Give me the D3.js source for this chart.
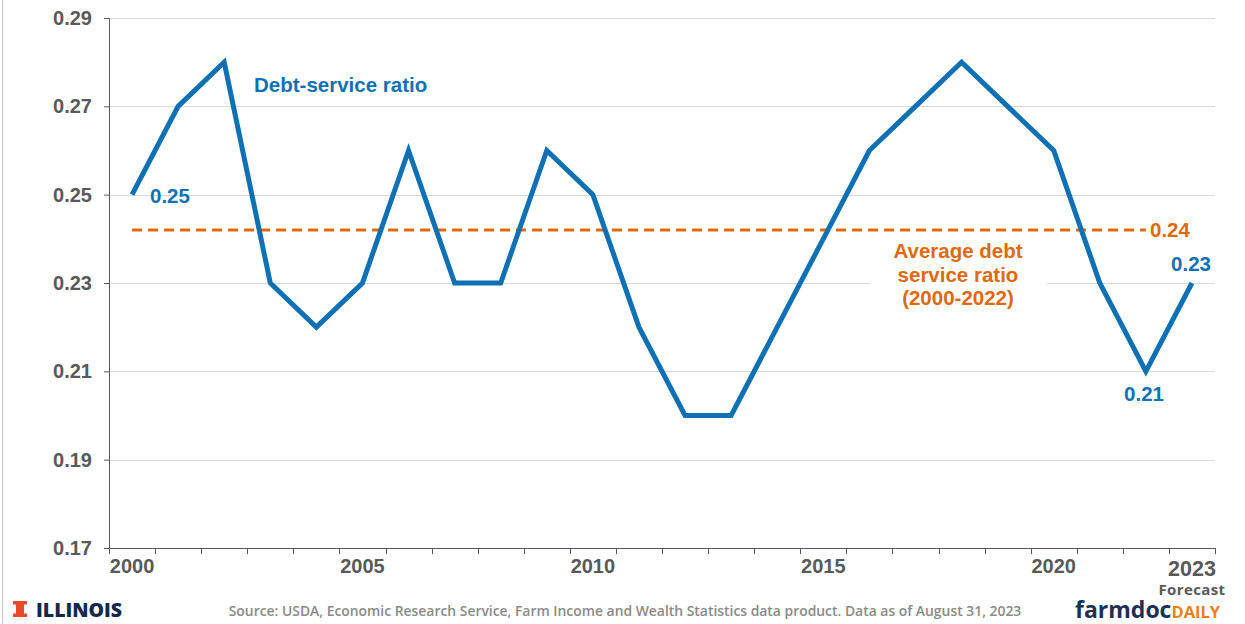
<!DOCTYPE html>
<html><head><meta charset="utf-8">
<script src="https://cdn.jsdelivr.net/npm/d3@7"></script>
<style>body{margin:0;background:#fff}svg{display:block}</style>
</head><body>
<svg id="c" width="1245" height="624"></svg>
<script>
const years = d3.range(2000, 2024).map(String);
const debtService = [0.25,0.27,0.28,0.23,0.22,0.23,0.26,0.23,0.23,0.26,0.25,0.22,0.20,0.20,0.22,0.24,0.26,0.27,0.28,0.27,0.26,0.23,0.21,0.23];
const averageRatio = 0.242;
const yTicks = [0.17,0.19,0.21,0.23,0.25,0.27,0.29];
const xLabels = ["2000","2005","2010","2015","2020","2023"];
const pointLabels = [{year:"2000",text:"0.25"},{year:"2022",text:"0.21"},{year:"2023",text:"0.23"}];

const svg = d3.select("#c");
const font = "'Liberation Sans', Arial, sans-serif";
const blue = "#0F71B3", orange = "#DE6A0E", gray = "#595959";
const L = 109, R = 1215, T = 18, B = 548;

const x = d3.scaleBand().domain(years).range([L, R]);
const y = d3.scaleLinear().domain([0.17, 0.29]).range([B, T]);
const cx = d => x(d) + x.bandwidth()/2;

svg.append("line").attr("x1",2.5).attr("x2",2.5).attr("y1",0).attr("y2",624).attr("stroke","#c8c8c8");

// grid
svg.append("g").selectAll("line").data(yTicks.slice(1)).join("line")
  .attr("x1",L).attr("x2",R).attr("y1",d=>Math.round(y(d))+0.5).attr("y2",d=>Math.round(y(d))+0.5)
  .attr("stroke","#d9d9d9").attr("stroke-width",1);

// y axis
const ya = svg.append("g").attr("transform",`translate(${L},0)`)
  .call(d3.axisLeft(y).tickValues(yTicks).tickFormat(d3.format(".2f")).tickSize(5).tickPadding(12));
ya.select(".domain").attr("stroke",gray);
ya.selectAll(".tick line").attr("stroke",gray);
ya.selectAll("text").attr("font-family",font).attr("font-weight","bold").attr("font-size",20).attr("fill",gray);

// x axis
const xa = svg.append("g").attr("transform",`translate(0,${B})`)
  .call(d3.axisBottom(x).tickValues([]).tickSize(0));
xa.select(".domain").attr("stroke",gray).attr("d",`M${L},0.5H${R}`);
svg.append("g").selectAll("line").data(years.concat(["end"])).join("line")
  .attr("x1",(d,i)=>Math.round(L + i*x.bandwidth())+0.5).attr("x2",(d,i)=>Math.round(L + i*x.bandwidth())+0.5)
  .attr("y1",B).attr("y2",B+6).attr("stroke",gray);
svg.append("g").selectAll("text").data(xLabels).join("text")
  .attr("x",d=>cx(d)).attr("y",d=>d==="2023"?576:573).attr("text-anchor","middle")
  .attr("font-family",font).attr("font-weight","bold").attr("font-size",d=>d==="2023"?21.5:20).attr("fill",gray).text(d=>d);
svg.append("text").attr("x",cx("2023")).attr("y",595).attr("text-anchor","middle")
  .attr("font-family","'Open Sans', sans-serif").attr("font-weight","bold").attr("font-size",15).attr("letter-spacing",0.4).attr("fill",gray).text("Forecast");

// average dashed line
svg.append("line").attr("x1",cx("2000")).attr("x2",cx("2022")).attr("y1",y(averageRatio)).attr("y2",y(averageRatio))
  .attr("stroke",orange).attr("stroke-width",3).attr("stroke-dasharray","10,6");

// label box
svg.append("rect").attr("x",870).attr("y",236).attr("width",177).attr("height",76).attr("fill","#fff");
const avgT = svg.append("text").attr("x",957).attr("text-anchor","middle")
  .attr("font-family",font).attr("font-weight","bold").attr("font-size",20.5).attr("fill",orange);
["Average debt","service ratio","(2000-2022)"].forEach((s,i)=>avgT.append("tspan").attr("x",958).attr("y",258+i*23.5).text(s));
svg.append("text").attr("x",1150).attr("y",237).attr("font-family",font).attr("font-weight","bold").attr("font-size",20.5).attr("fill",orange).text("0.24");

// line
svg.append("path").datum(debtService)
  .attr("d", d3.line().x((d,i)=>cx(years[i])).y(d=>y(d)))
  .attr("fill","none").attr("stroke",blue).attr("stroke-width",5).attr("stroke-linejoin","miter");

svg.append("text").attr("x",254).attr("y",92).attr("font-family",font).attr("font-weight","bold").attr("font-size",20.5).attr("fill",blue).text("Debt-service ratio");

const lblPos = {"2000":[150,203,"start"],"2022":[1144,401,"middle"],"2023":[1191,271,"middle"]};
svg.append("g").selectAll("text").data(pointLabels).join("text")
  .attr("x",d=>lblPos[d.year][0]).attr("y",d=>lblPos[d.year][1]).attr("text-anchor",d=>lblPos[d.year][2])
  .attr("font-family",font).attr("font-weight","bold").attr("font-size",20.5).attr("fill",blue).text(d=>d.text);

// footer
svg.append("rect").attr("x",16).attr("y",601).attr("width",8).attr("height",16).attr("fill","#E84A27");
svg.append("rect").attr("x",13).attr("y",601).attr("width",14).attr("height",3.5).attr("fill","#E84A27");
svg.append("rect").attr("x",13).attr("y",613.5).attr("width",14).attr("height",3.5).attr("fill","#E84A27");
svg.append("text").attr("x",36).attr("y",617).attr("font-family","'Open Sans', sans-serif").attr("font-weight","800").attr("font-size",19.5).attr("fill","#13294B").text("ILLINOIS");
svg.append("text").attr("x",625).attr("y",616).attr("text-anchor","middle").attr("font-family","'Open Sans', sans-serif").attr("font-weight","600").attr("font-size",13.9).attr("fill","#8a8a8a")
  .text("Source: USDA, Economic Research Service, Farm Income and Wealth Statistics data product. Data as of August 31, 2023");
const fd = svg.append("text").attr("x",1075).attr("y",618).attr("font-family","'Open Sans', sans-serif").attr("font-weight","bold");
fd.append("tspan").attr("font-size",23).attr("fill","#1B2F57").text("farmdoc");
fd.append("tspan").attr("font-size",16.5).attr("fill","#F07F1B").text("DAILY");
</script>
</body></html>
